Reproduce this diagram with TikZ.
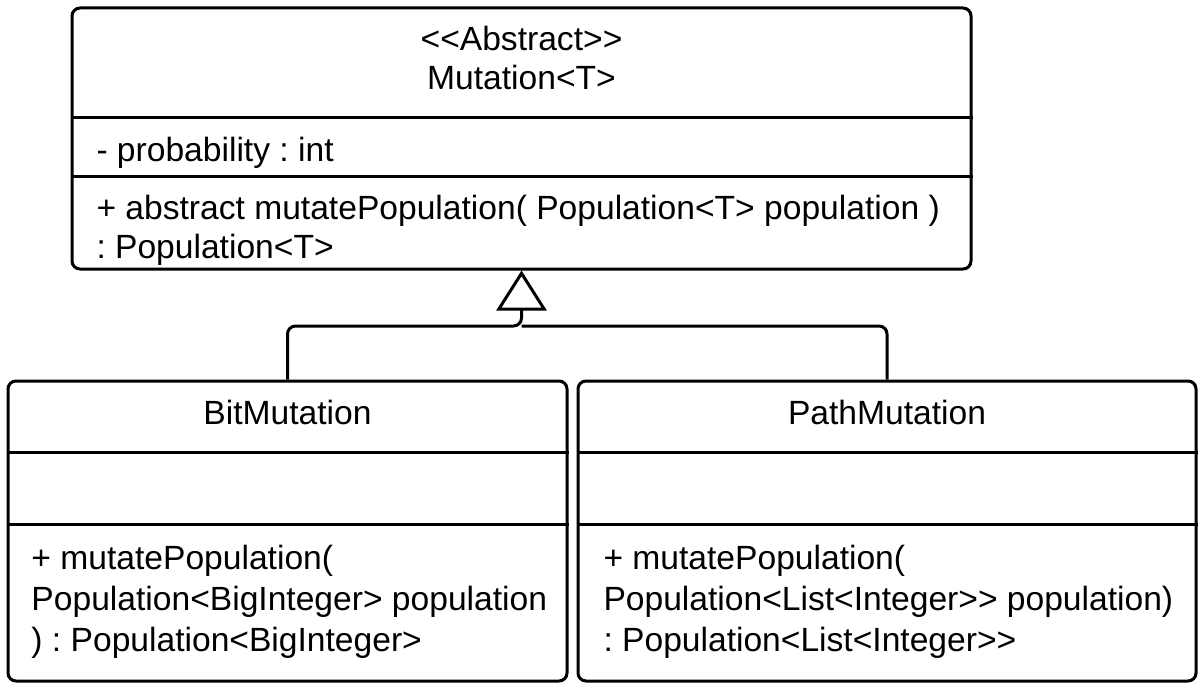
\documentclass[tikz,border=0pt]{standalone}
\usepackage{fontspec}
\setmainfont{Liberation Sans}[Ligatures=TeXOff]
\usetikzlibrary{arrows.meta}
\frenchspacing

\begin{document}
\begin{tikzpicture}[x=0.5pt,y=-0.5pt, line width=1.5pt,
  classbox/.style={draw, rounded corners=4pt, inner sep=0pt},
  member/.style={anchor=base west, inner sep=0pt, font=\fontsize{16.8}{20}\selectfont},
  title/.style={anchor=base, inner sep=0pt, font=\fontsize{16.8}{20}\selectfont},
  inherit/.style={-{Triangle[open, length=20pt, width=25pt]}, rounded corners=4pt}]
\useasboundingbox (0,0) rectangle (1202,690);
% class boxes
\node [classbox, minimum width=449.5pt, minimum height=130.5pt] (mutation) at (521.5,138.5) {};
\node [classbox, minimum width=279.5pt, minimum height=150pt] (bitmut) at (287.5,531) {};
\node [classbox, minimum width=309pt, minimum height=150pt] (pathmut) at (887,531) {};
% compartments
\draw (mutation.west |- 0,117) -- (mutation.east |- 0,117);
\draw (mutation.west |- 0,176) -- (mutation.east |- 0,176);
\draw (bitmut.west |- 0,452) -- (bitmut.east |- 0,452);
\draw (bitmut.west |- 0,524) -- (bitmut.east |- 0,524);
\draw (pathmut.west |- 0,452) -- (pathmut.east |- 0,452);
\draw (pathmut.west |- 0,524) -- (pathmut.east |- 0,524);
% texts
\node [title] (stereo) at (521.5,51) {<<Abstract>>};
\node [title] (mutname) at (521.5,90) {Mutation<T>};
\node [member] (prob) at (95,161) {- probability : int};
\node [member] (absop) at (95,219) {+ abstract mutatePopulation( Population<T> population )};
\node [member] (absret) at (95,258) {: Population<T>};
\node [title] (bitname) at (287.5,424) {BitMutation};
\node [member] (bitop) at (30,569) {+ mutatePopulation(};
\node [member] (bitarg) at (30,610) {Population<BigInteger> population};
\node [member] (bitret) at (30,651) {) : Population<BigInteger>};
\node [title] (pathname) at (887,424) {PathMutation};
\node [member] (pathop) at (602,569) {+ mutatePopulation(};
\node [member] (patharg) at (602,610) {Population<List<Integer>> population)};
\node [member] (pathret) at (602,651) {: Population<List<Integer>>};
% generalisation
\coordinate (join) at (mutation.south |- 0,326);
\draw [inherit] (bitmut.north) |- (join) -- (mutation.south);
\draw [rounded corners=4pt] (pathmut.north) |- (join);
\end{tikzpicture}
\end{document}
